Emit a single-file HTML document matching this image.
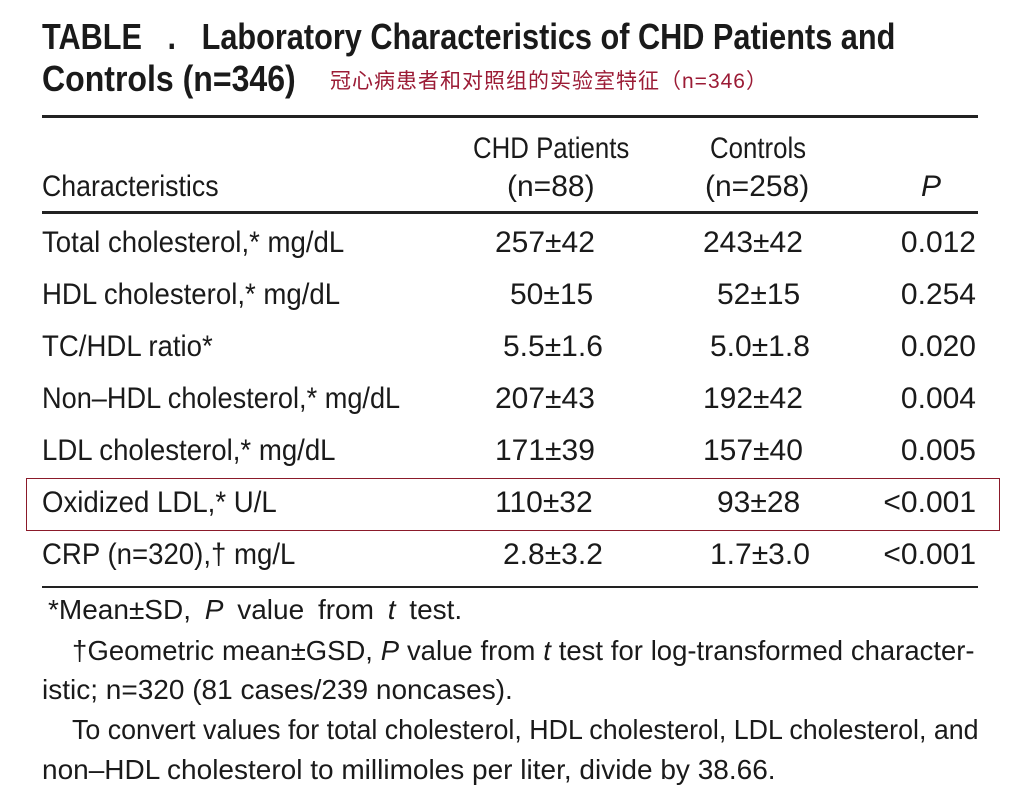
<!DOCTYPE html>
<html><head><meta charset="utf-8"><style>
html,body{margin:0;padding:0;background:#fff;}
body{width:1009px;height:791px;position:relative;overflow:hidden;font-family:"Liberation Sans","Noto Sans CJK SC",sans-serif;color:#1a1a1a;}
.t{position:absolute;white-space:nowrap;line-height:1;transform-origin:0 0;}
.r{font-size:30px;}
.f{font-size:28px;}
.h{font-size:36px;font-weight:bold;}
.rule{position:absolute;left:42px;width:936px;background:#222;}
.j{text-align:justify;text-align-last:justify;white-space:nowrap;}
.rt{text-align:right;}
.lab{transform:scaleX(0.92);}
.hd{transform:scaleX(0.86);}
</style></head><body>
<div class="t h" style="left:42px;top:19px;transform:scaleX(0.852);">TABLE&nbsp;&nbsp;&nbsp;.&nbsp;&nbsp;&nbsp;Laboratory Characteristics of CHD Patients and</div>
<div class="t h" style="left:42px;top:61px;transform:scaleX(0.89);">Controls (n=346)</div>
<div class="t" style="left:330px;top:71px;font-size:21px;letter-spacing:1px;color:#9b1b35;">冠心病患者和对照组的实验室特征（n=346）</div>
<div class="rule" style="top:115px;height:3px;"></div>
<div class="t r hd" style="left:473px;top:134px;">CHD Patients</div>
<div class="t r hd" style="left:710px;top:134px;">Controls</div>
<div class="t r" style="left:42px;top:172px;transform:scaleX(0.89);">Characteristics</div>
<div class="t r" style="left:507px;top:172px;">(n=88)</div>
<div class="t r" style="left:705px;top:172px;">(n=258)</div>
<div class="t r" style="left:921px;top:172px;font-style:italic;">P</div>
<div class="rule" style="top:211px;height:3px;"></div>

<div class="t r lab" style="left:42px;top:228px;">Total cholesterol,* mg/dL</div>
<div class="t r" style="left:495px;top:228px;">257±42</div>
<div class="t r" style="left:703px;top:228px;">243±42</div>
<div class="t r rt" style="right:33px;top:228px;">0.012</div>

<div class="t r lab" style="left:42px;top:280px;">HDL cholesterol,* mg/dL</div>
<div class="t r" style="left:510px;top:280px;">50±15</div>
<div class="t r" style="left:717px;top:280px;">52±15</div>
<div class="t r rt" style="right:33px;top:280px;">0.254</div>

<div class="t r lab" style="left:42px;top:332px;">TC/HDL ratio*</div>
<div class="t r" style="left:503px;top:332px;">5.5±1.6</div>
<div class="t r" style="left:710px;top:332px;">5.0±1.8</div>
<div class="t r rt" style="right:33px;top:332px;">0.020</div>

<div class="t r lab" style="left:42px;top:384px;transform:scaleX(0.905);">Non–HDL cholesterol,* mg/dL</div>
<div class="t r" style="left:495px;top:384px;">207±43</div>
<div class="t r" style="left:703px;top:384px;">192±42</div>
<div class="t r rt" style="right:33px;top:384px;">0.004</div>

<div class="t r lab" style="left:42px;top:436px;">LDL cholesterol,* mg/dL</div>
<div class="t r" style="left:495px;top:436px;">171±39</div>
<div class="t r" style="left:703px;top:436px;">157±40</div>
<div class="t r rt" style="right:33px;top:436px;">0.005</div>

<div style="position:absolute;left:26px;top:478px;width:972px;height:51px;border:1.5px solid #8b1a2a;"></div>
<div class="t r lab" style="left:42px;top:488px;">Oxidized LDL,* U/L</div>
<div class="t r" style="left:495px;top:488px;">110±32</div>
<div class="t r" style="left:717px;top:488px;">93±28</div>
<div class="t r rt" style="right:33px;top:488px;">&lt;0.001</div>

<div class="t r lab" style="left:42px;top:540px;">CRP (n=320),† mg/L</div>
<div class="t r" style="left:503px;top:540px;">2.8±3.2</div>
<div class="t r" style="left:710px;top:540px;">1.7±3.0</div>
<div class="t r rt" style="right:33px;top:540px;">&lt;0.001</div>

<div class="rule" style="top:586px;height:2px;"></div>

<div class="t f" style="left:48px;top:596px;word-spacing:6px;">*Mean±SD, <i>P</i> value from <i>t</i> test.</div>
<div class="t f j" style="left:72px;top:637px;width:920px;transform:scaleX(0.981);">†Geometric mean±GSD, <i>P</i> value from <i>t</i> test for log-transformed character-</div>
<div class="t f" style="left:42px;top:676px;">istic; n=320 (81 cases/239 noncases).</div>
<div class="t f j" style="left:72px;top:716px;width:947px;transform:scaleX(0.957);">To convert values for total cholesterol, HDL cholesterol, LDL cholesterol, and</div>
<div class="t f" style="left:42px;top:756px;">non–HDL cholesterol to millimoles per liter, divide by 38.66.</div>
</body></html>
